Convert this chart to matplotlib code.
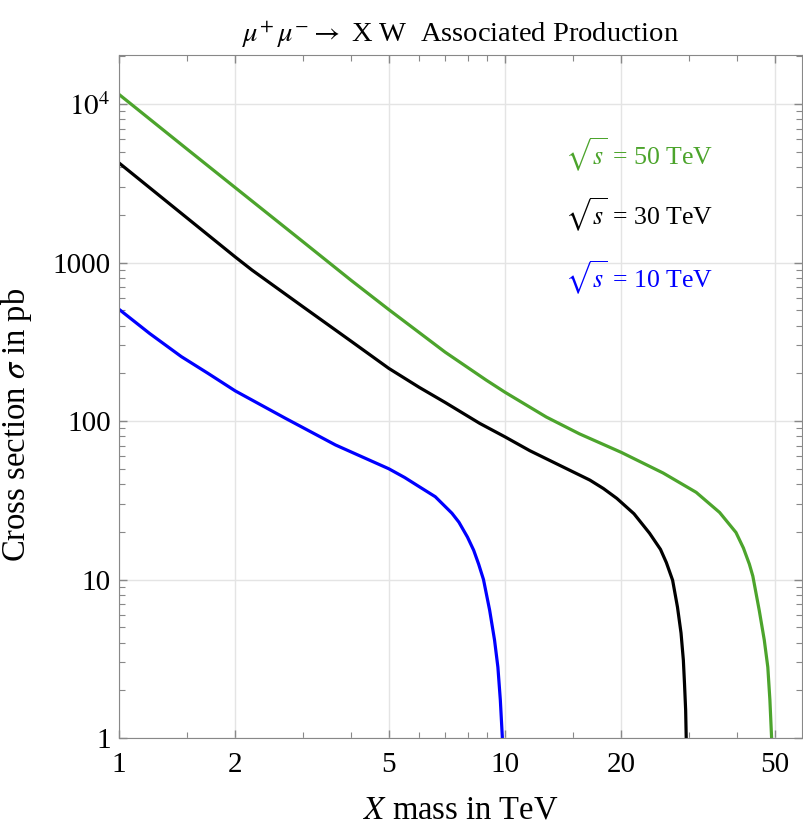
import matplotlib
matplotlib.use("Agg")
import matplotlib.pyplot as plt
from matplotlib.ticker import FixedLocator, FixedFormatter, NullFormatter

plt.rcParams['font.family'] = ['Liberation Serif', 'DejaVu Serif']
plt.rcParams['mathtext.fontset'] = 'stix'

# values (x in TeV, sigma in pb)
x_10 = [1, 1.2, 1.45, 1.7, 2, 2.7, 3.64, 4.26, 5, 5.5, 6, 6.6, 7.29, 7.6, 8.0, 8.3, 8.55, 8.8, 9.13, 9.4, 9.59,
        9.73, 9.85]
y_10 = [507, 357, 255, 200, 155, 104, 70.6, 59.5, 50, 44, 38.5, 33.3, 26.2, 23, 18.5, 15.3, 12.5, 10, 6.4, 4.15,
        2.8, 1.74, 1]

x_30 = [1, 1.42, 2, 2.21, 3, 4, 5, 6, 7, 8.6, 10, 11.6, 14.1, 16.6, 18, 19.5, 21.6, 23.7, 25.3, 26.2,
        27.2, 28.0, 28.6, 29.0, 29.2, 29.4, 29.5]
y_30 = [4250, 2130, 1085, 897, 525, 318, 215, 163, 131, 96.7, 79.5, 65, 51.5, 42.4, 37.5, 32.5, 26, 19.6, 15.5,
        12.8, 9.9, 6.7, 4.6, 3.1, 2.2, 1.5, 1]

x_50 = [1, 1.5, 2, 3, 4, 5, 7, 8.95, 10, 12.8, 15.6, 20, 25.7, 31.3, 36, 39.7, 41.5, 43, 43.9, 45.6, 47, 48,
        48.6, 49.1]
y_50 = [11500, 5200, 2970, 1350, 770, 505, 272, 181, 152, 106, 83, 63.5, 47, 35.5, 26.5, 19.8, 15.8, 12.5, 10.5,
        6.4, 4.15, 2.8, 1.74, 1]

green = '#4ca42c'
series = [
    (x_50, y_50, green, r'$\sqrt{s}$ = 50 TeV'),
    (x_30, y_30, 'black', r'$\sqrt{s}$ = 30 TeV'),
    (x_10, y_10, '#0000ff', r'$\sqrt{s}$ = 10 TeV'),
]

x_major = [1, 2, 5, 10, 20, 50]
x_minor = [1.5, 3, 4, 6, 7, 8, 9, 15, 30, 40]
y_major = [1, 10, 100, 1000, 10000]
y_labels = ['1', '10', '100', '1000', r'$10^4$']

fig = plt.figure(figsize=(8.04, 8.26), dpi=100)
ax = fig.add_axes([0.148, 0.1065, 0.850, 0.827])

for xs, ys, c, lab in series:
    ax.plot(xs, ys, color=c, lw=2.3, solid_capstyle='butt', solid_joinstyle='round')

ax.set_xscale('log')
ax.set_yscale('log')
ax.set_xlim(1, 59)
ax.set_ylim(1, 2.04e4)

ax.xaxis.set_major_locator(FixedLocator(x_major))
ax.xaxis.set_major_formatter(FixedFormatter([str(v) for v in x_major]))
ax.xaxis.set_minor_locator(FixedLocator(x_minor))
ax.xaxis.set_minor_formatter(NullFormatter())
ax.yaxis.set_major_locator(FixedLocator(y_major))
ax.yaxis.set_major_formatter(FixedFormatter(y_labels))
ax.yaxis.set_minor_locator(FixedLocator([m * 10**k for k in range(5) for m in range(2, 10)]))
ax.yaxis.set_minor_formatter(NullFormatter())

ax.grid(True, which='major', color='#e4e4e4', lw=1)
for s in ax.spines.values():
    s.set_color('#888888')
ax.tick_params(which='both', direction='in', top=True, right=True, color='#888888',
               labelsize=21)
ax.tick_params(which='major', length=6, width=1)
ax.tick_params(which='minor', length=4, width=0.8)
ax.tick_params(axis='x', pad=10)
ax.tick_params(axis='y', pad=6)

ax.set_title(r'$\mu^{+}\,\mu^{-} \rightarrow$ X W  Associated Production', fontsize=20.5, pad=9)
ax.set_xlabel(r'$X$ mass in TeV', fontsize=23.5)
ax.set_ylabel(r'Cross section $\sigma$ in pb', fontsize=23.5)
ax.xaxis.set_label_coords(0.5, -0.083)
ax.yaxis.set_label_coords(-0.125, 0.458)

for (xs, ys, c, lab), ty in zip(series, [0.854, 0.766, 0.674]):
    ax.text(0.869, ty, lab, color=c, fontsize=18.6, ha='right', va='center',
            transform=ax.transAxes)

fig.savefig('out.png', dpi=100)
